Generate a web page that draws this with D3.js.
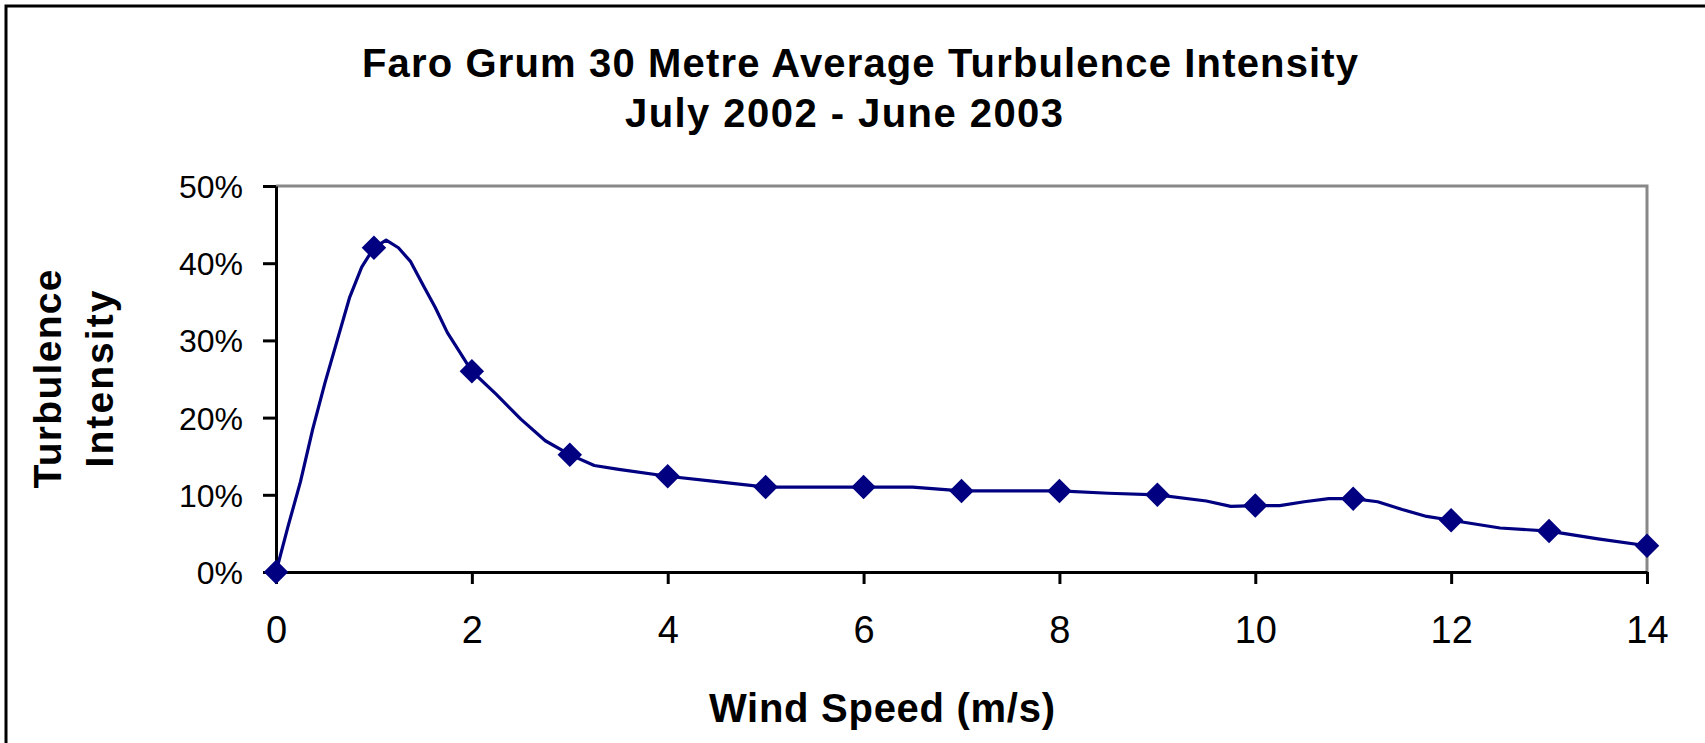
<!DOCTYPE html>
<html>
<head>
<meta charset="utf-8">
<script src="https://cdn.jsdelivr.net/npm/d3@7"></script>
<style>
  html, body { margin: 0; padding: 0; background: #fff; }
  svg { display: block; font-family: Arial, "Liberation Sans", sans-serif; }
</style>
</head>
<body>
<svg id="chart" width="1705" height="743"></svg>
<script>
// yearly mean turbulence intensity, binned by wind speed (markers)
const markerSpeed = [0, 1, 2, 3, 4, 5, 6, 7, 8, 9, 10, 11, 12, 13, 14];
const markerTI = [0, 0.42, 0.26, 0.152, 0.124, 0.11, 0.11, 0.105, 0.105, 0.10, 0.086, 0.095, 0.067, 0.053, 0.034];

// finer-binned curve drawn as a plain line
const lineSpeed = [0, 0.125, 0.25, 0.375, 0.5, 0.625, 0.75, 0.875, 1, 1.125, 1.25, 1.375, 1.5, 1.625, 1.75, 1.875,
  2, 2.25, 2.5, 2.75, 3, 3.25, 3.5, 4, 4.5, 5, 5.5, 6, 6.5, 7, 7.5, 8, 8.5, 9, 9.5, 9.75,
  10, 10.25, 10.5, 10.75, 11, 11.25, 11.5, 11.75, 12, 12.5, 13, 13.5, 14];
const lineTI = [0, 0.06, 0.117, 0.185, 0.245, 0.30, 0.355, 0.395, 0.42, 0.43, 0.42, 0.402, 0.372, 0.343, 0.31, 0.285,
  0.26, 0.23, 0.198, 0.17, 0.152, 0.138, 0.133, 0.124, 0.117, 0.11, 0.11, 0.11, 0.11, 0.105, 0.105, 0.105, 0.102, 0.10, 0.092, 0.085,
  0.086, 0.086, 0.091, 0.095, 0.095, 0.091, 0.081, 0.072, 0.067, 0.057, 0.053, 0.043, 0.034];

const xTicks = [0, 2, 4, 6, 8, 10, 12, 14];
const yTicks = [0, 0.1, 0.2, 0.3, 0.4, 0.5];

const titleLines = ['Faro Grum 30 Metre Average Turbulence Intensity', 'July 2002 - June 2003'];
const yTitleLines = ['Turbulence', 'Intensity'];
const xTitle = 'Wind Speed (m/s)';

const svg = d3.select('#chart');
const navy = '#000080';

const margin = { left: 276, right: 1647, top: 186, bottom: 572 };

const x = d3.scaleLinear().domain([0, 14]).range([margin.left, margin.right]);
const y = d3.scaleLinear().domain([0, 0.5]).range([margin.bottom, margin.top]);

// outer chart border (only left/top edges fall inside the picture)
svg.append('rect')
  .attr('x', 6).attr('y', 6)
  .attr('width', 1800).attr('height', 900)
  .attr('fill', 'none')
  .attr('stroke', '#000')
  .attr('stroke-width', 3);

// plot area border: grey top and right
svg.append('path')
  .attr('d', `M${x(0)},${y(0.5)}H${x(14)}V${y(0)}`)
  .attr('fill', 'none')
  .attr('stroke', '#888')
  .attr('stroke-width', 3);

const xAxis = d3.axisBottom(x)
  .tickValues(xTicks)
  .tickSize(12)
  .tickSizeOuter(0)
  .tickPadding(32);
const yAxis = d3.axisLeft(y)
  .tickValues(yTicks)
  .tickFormat(d3.format('.0%'))
  .tickSize(13)
  .tickSizeOuter(0)
  .tickPadding(20);

const gx = svg.append('g').attr('transform', `translate(0,${y(0)})`).call(xAxis);
const gy = svg.append('g').attr('transform', `translate(${x(0)},0)`).call(yAxis);

[gx, gy].forEach(g => {
  g.select('.domain').attr('stroke', '#000').attr('stroke-width', 3);
  g.selectAll('.tick line').attr('stroke', '#000').attr('stroke-width', 3);
  g.selectAll('.tick text').attr('fill', '#000');
});
gx.selectAll('.tick text').style('font-size', '38px').attr('dy', '0.71em');
gy.selectAll('.tick text').style('font-size', '32px').attr('dy', '0.36em');

// curve
const line = d3.line()
  .x((d, i) => x(lineSpeed[i]))
  .y(d => y(d));

svg.append('path')
  .datum(lineTI)
  .attr('d', line)
  .attr('fill', 'none')
  .attr('stroke', navy)
  .attr('stroke-width', 3.2)
  .attr('stroke-linejoin', 'round');

// diamond markers
const diamond = d3.symbol(d3.symbolSquare, 300);
svg.append('g')
  .selectAll('path')
  .data(markerTI)
  .join('path')
  .attr('d', diamond)
  .attr('transform', (d, i) => `translate(${x(markerSpeed[i])},${y(d)}) rotate(45)`)
  .attr('fill', navy);

// titles
const title = svg.append('g')
  .attr('font-weight', 'bold')
  .attr('font-size', 40)
  .attr('text-anchor', 'middle');
title.append('text')
  .attr('x', 860).attr('y', 77)
  .attr('textLength', 996).attr('lengthAdjust', 'spacing')
  .text(titleLines[0]);
title.append('text')
  .attr('x', 844).attr('y', 127)
  .attr('textLength', 438).attr('lengthAdjust', 'spacing')
  .text(titleLines[1]);

svg.append('text')
  .attr('x', 882).attr('y', 722)
  .attr('text-anchor', 'middle')
  .attr('font-weight', 'bold')
  .attr('font-size', 40)
  .attr('textLength', 346).attr('lengthAdjust', 'spacing')
  .text(xTitle);

const yMid = (margin.top + margin.bottom) / 2;
const yTitleX = [61, 113];
const yTitleLen = [219, 177];
yTitleLines.forEach((t, i) => {
  svg.append('text')
    .attr('transform', `translate(${yTitleX[i]},${yMid}) rotate(-90)`)
    .attr('text-anchor', 'middle')
    .attr('font-weight', 'bold')
    .attr('font-size', 39)
    .attr('textLength', yTitleLen[i]).attr('lengthAdjust', 'spacing')
    .text(t);
});
</script>
</body>
</html>
